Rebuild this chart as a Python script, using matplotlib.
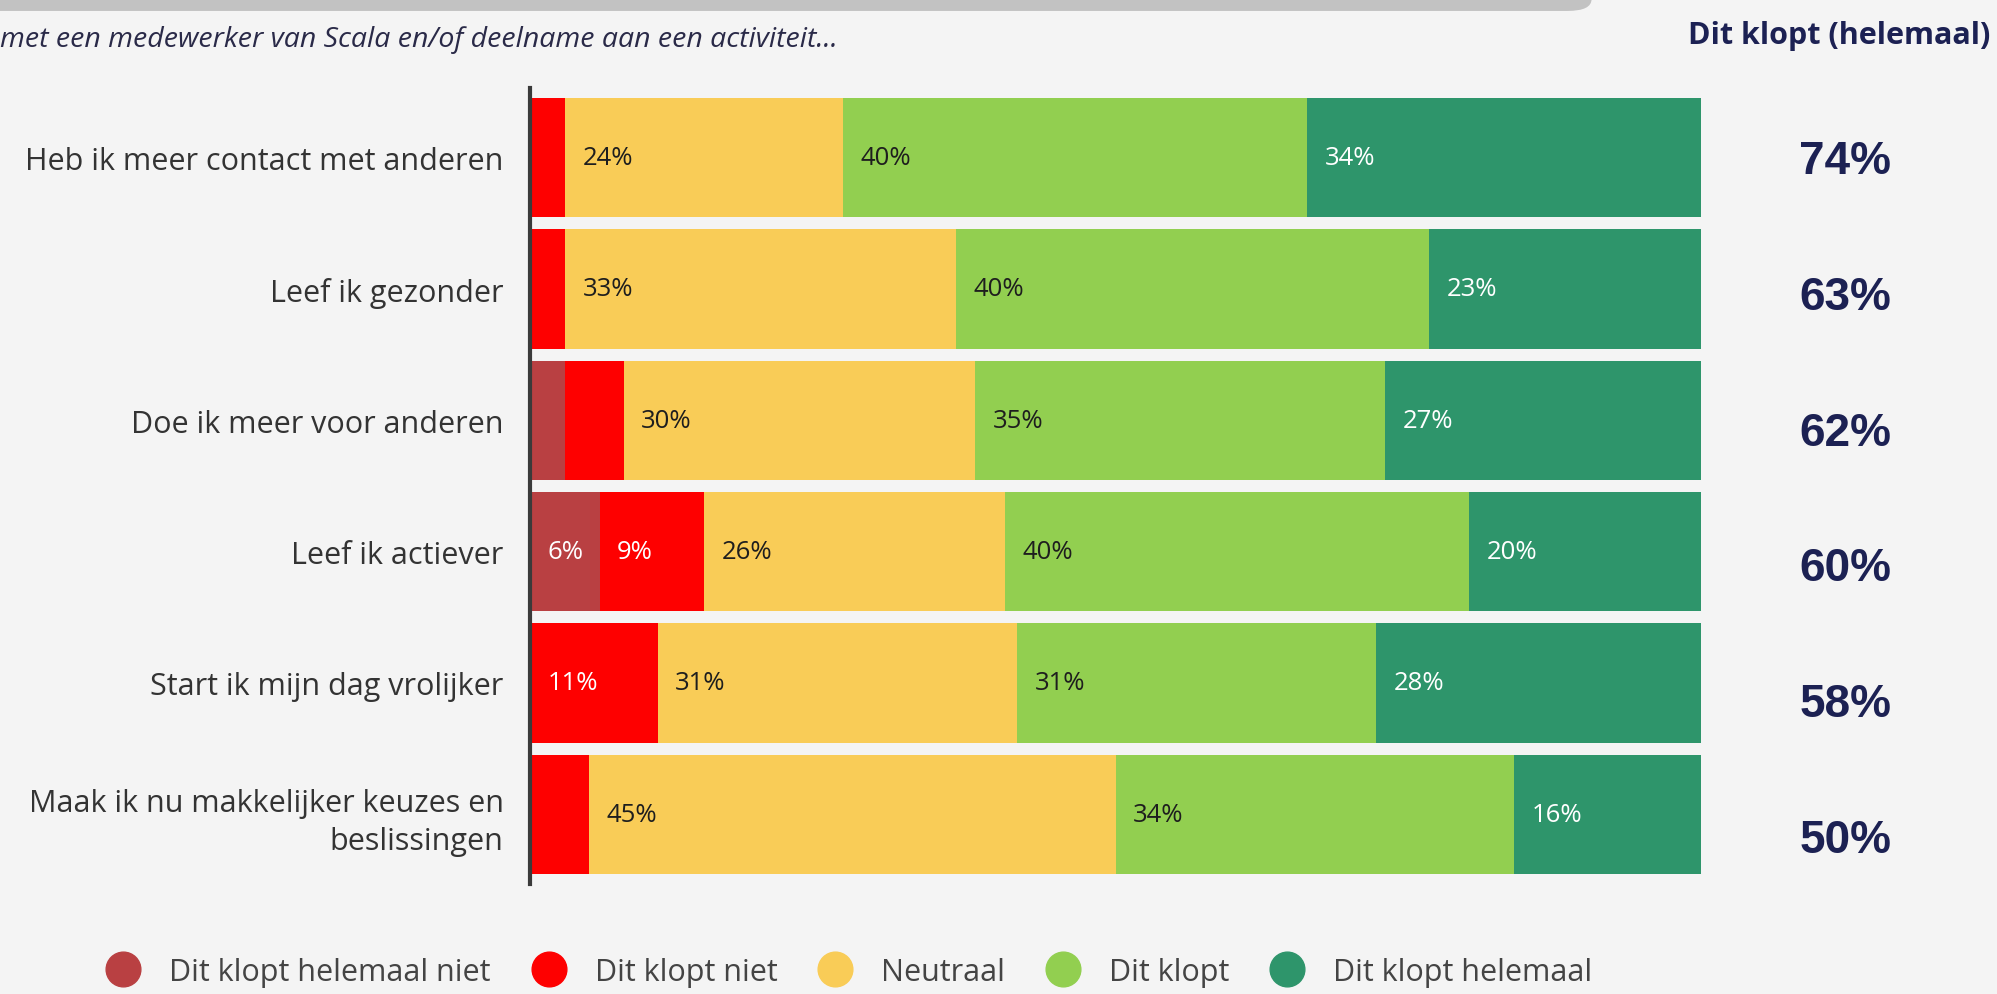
import numpy as np
import matplotlib
matplotlib.use('Agg')
from matplotlib import pyplot as plt
from matplotlib.lines import Line2D
from matplotlib.patches import FancyBboxPatch

plt.rcParams['font.family'] = ['Open Sans', 'DejaVu Sans']

# data
stellingen = ['Heb ik meer contact met anderen',
              'Leef ik gezonder',
              'Doe ik meer voor anderen',
              'Leef ik actiever',
              'Start ik mijn dag vrolijker',
              'Maak ik nu makkelijker keuzes en\nbeslissingen']
antwoorden = ['Dit klopt helemaal niet', 'Dit klopt niet', 'Neutraal',
              'Dit klopt', 'Dit klopt helemaal']
helemaal_niet = [0, 0, 3, 6, 0, 0]
niet = [3, 3, 5, 9, 11, 5]
neutraal = [24, 33, 30, 26, 31, 45]
klopt = [40, 40, 35, 40, 31, 34]
klopt_helemaal = [34, 23, 27, 20, 28, 16]
totaal_klopt = [74, 63, 62, 60, 58, 50]

kleuren = ['#b94042', '#fe0000', '#f9cc57', '#92cf50', '#2e956b']
tekstkleuren = ['white', 'white', '#1e1e1e', '#1e1e1e', 'white']
achtergrond = '#f4f4f4'

waarden = np.array([helemaal_niet, niet, neutraal, klopt, klopt_helemaal], dtype=float)
breedtes = waarden / waarden.sum(axis=0) * 100  # elke balk tot 100%

fig = plt.figure(figsize=(19.97, 9.95), dpi=100, facecolor=achtergrond)
ax = fig.add_axes([0.2654, 0.1106, 0.5864, 0.8])
ax.set_facecolor(achtergrond)

y = np.arange(len(stellingen))
links = np.zeros(len(stellingen))
for i in range(len(antwoorden)):
    ax.barh(y, breedtes[i], left=links, height=0.91, color=kleuren[i], linewidth=0)
    for j in range(len(stellingen)):
        if waarden[i, j] >= 6:
            ax.text(links[j] + 1.5, y[j], f'{waarden[i, j]:.0f}%', va='center', ha='left',
                    fontsize=18.5, color=tekstkleuren[i])
    links += breedtes[i]

ax.set_xlim(0, 100)
ax.set_ylim(5.53, -0.53)
ax.set_yticks(y)
ax.set_yticklabels(stellingen, fontsize=22, color='#333333', linespacing=1.35)
ax.tick_params(axis='y', length=0, pad=19)
ax.set_xticks([])
for s in ['top', 'right', 'bottom']:
    ax.spines[s].set_visible(False)
ax.spines['left'].set_color('#3a3a3a')
ax.spines['left'].set_linewidth(3)

# kolom rechts
fig.text(0.9965, 0.964, 'Dit klopt (helemaal)', ha='right', va='center',
         fontsize=22, fontweight='bold', color='#1c2153')
ypos = np.linspace(1 - 162 / 995, 1 - 841 / 995, len(totaal_klopt))
for t, yy in zip(totaal_klopt, ypos):
    fig.text(0.924, yy, f'{t}%', ha='center', va='center', fontsize=33,
             fontweight='bold', color='#1c2153', family='Liberation Sans')

# ondertitel (afgesneden)
fig.text(0.0, 0.96, 'met een medewerker van Scala en/of deelname aan een activiteit...',
         ha='left', va='center', fontsize=20.5, style='italic', color='#2a2a48')

# grijze balk bovenaan
fig.patches.append(FancyBboxPatch((-0.05, 0.988), 0.847, 0.05,
                                  boxstyle='round,pad=0,rounding_size=0.012',
                                  transform=fig.transFigure, facecolor='#c2c2c2',
                                  edgecolor='none'))

handles = [Line2D([], [], marker='o', ls='', markersize=25, color=k) for k in kleuren]
fig.legend(handles, antwoorden, loc='center', bbox_to_anchor=(0.425, 0.022), ncol=5,
           frameon=False, fontsize=22, handlelength=1.2, handletextpad=0.9,
           columnspacing=1.3, labelcolor='#444444')

plt.savefig('out.png', dpi=100, facecolor=achtergrond)
